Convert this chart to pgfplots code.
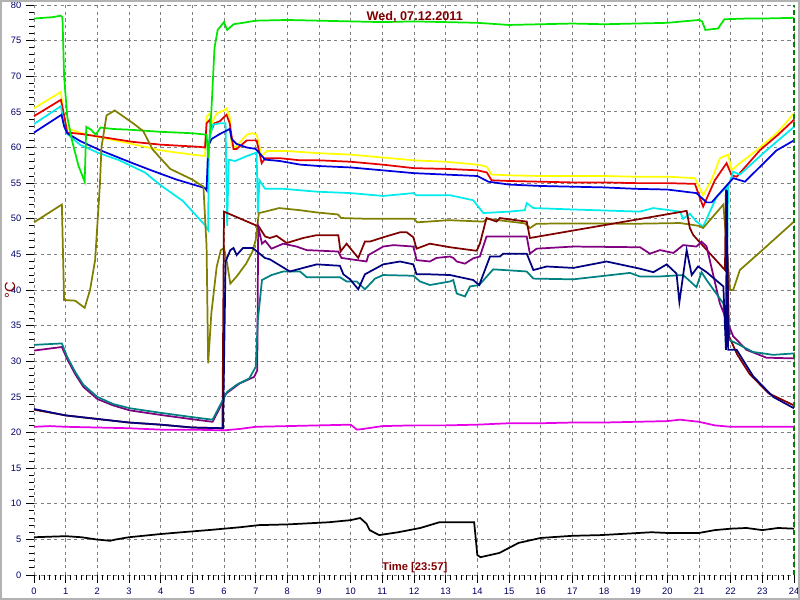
\documentclass[border=0pt]{standalone}
\usepackage{pgfplots}
\pgfplotsset{compat=1.18}
\usepackage{fontspec}
\setmainfont{Liberation Sans}

\definecolor{cgreen}{RGB}{0,230,0}
\definecolor{cyellow}{RGB}{255,255,0}
\definecolor{cred}{RGB}{230,0,0}
\definecolor{ccyan}{RGB}{0,235,235}
\definecolor{cblue}{RGB}{0,0,220}
\definecolor{colive}{RGB}{128,128,0}
\definecolor{cmaroon}{RGB}{128,0,0}
\definecolor{cpurple}{RGB}{128,0,128}
\definecolor{cnavy}{RGB}{0,0,128}
\definecolor{cteal}{RGB}{0,128,128}
\definecolor{cmagenta}{RGB}{230,0,230}
\definecolor{labred}{RGB}{128,0,0}
\definecolor{ticknavy}{RGB}{0,0,102}
\definecolor{cursor}{RGB}{0,128,0}

\begin{document}
\begin{tikzpicture}
\begin{axis}[
    width=570pt, height=427.5pt, scale only axis,
    xmin=0, xmax=24, ymin=0, ymax=80,
    xtick={0,1,...,24}, ytick={0,5,...,80},
    minor x tick num=5, minor y tick num=4,
    tick align=outside,
    major tick length=6pt, minor tick length=3.5pt,
    axis lines*=left,
    axis line style={draw=none},
    tick style={black, line width=0.7pt},
    grid=major,
    major grid style={gray, line width=0.6pt, dash pattern=on 2.5pt off 2.5pt},
    ticklabel style={font=\fontsize{7}{8}\selectfont, text=ticknavy},
    /pgf/number format/assume math mode=true,
    clip=false,
    every axis plot/.append style={line width=1.3pt, mark=none},
]
% yellow
\addplot[cyellow] coordinates {
 (0,65.5) (0.85,67.8) (0.95,64) (1.05,62.7) (1.5,62) (2,61.5) (3,60.6) (4,59.6) (5,59) (5.4,58.8)
 (5.45,64.3) (5.55,64.8) (5.61,63.4) (5.77,64.8) (6.0,65.2) (6.08,65.5) (6.18,64.3) (6.24,60.2)
 (6.35,60) (6.72,61.8) (6.9,62) (7.03,61.8) (7.19,58.8) (7.35,59.5) (8,59.5) (9,59.2) (10,59)
 (11,58.6) (12,58.2) (13,58) (14,57.6) (14.3,57.3) (14.45,56.2) (15,56.1) (16,56) (17,56)
 (18,56) (19,55.9) (20,55.9) (20.87,55.7) (21.13,53.3) (21.4,55.5) (21.66,58.5) (21.92,59)
 (22.03,56.8) (22.29,57.8) (22.82,59.6) (23.5,62.2) (24,64.8)
};
% red
\addplot[cred] coordinates {
 (0,64.4) (0.85,66.7) (0.95,64.5) (1.05,62.1) (1.5,61.9) (2.1,61.5) (3.1,60.8) (4,60.4) (5.2,60.1)
 (5.4,60) (5.45,63.4) (5.55,63.9) (5.61,62.5) (5.7,63.4) (5.87,63.7) (6.08,64.6) (6.18,63.4)
 (6.3,59.8) (6.4,59.8) (6.72,61) (7.03,61) (7.19,57.8) (7.3,58.5) (7.77,58.5) (8.4,58.2) (9,58.2)
 (10,58) (11,57.6) (12,57.1) (13,57) (14,56.8) (14.3,56.5) (14.45,55.4) (15,55.3) (16,55.2)
 (17,55.1) (18,55.1) (19,55) (20,55) (20.87,54.9) (21.13,51.7) (21.5,55.4) (21.87,57.8)
 (22.03,56.1) (22.19,55.9) (22.92,59.6) (23.5,61.8) (24,63.9)
};
% cyan
\addplot[ccyan] coordinates {
 (0,63.3) (0.85,65.8) (0.95,63) (1.05,61.9) (1.45,60.4) (2,59.3) (2.7,58.2) (3.5,56.5) (4,54.7)
 (4.7,52.5) (5.4,49.1) (5.5,48.4) (5.52,60.7) (5.61,62.5) (5.65,63.2) (5.87,63.4) (6.05,63.4)
 (6.1,49) (6.15,58.3) (6.35,58.1) (6.72,58.8) (7.03,59.3) (7.07,50.8) (7.12,55.4) (7.3,54.2)
 (7.87,54.2) (8.93,53.8) (10,53.6) (11.03,53.2) (11.98,53.6) (12.08,53.3) (13.14,53.3)
 (13.87,52.6) (14.19,50.8) (15,51) (15.5,51.2) (15.56,52.2) (15.77,51.5) (17.03,51.3)
 (19.13,51) (19.56,51.5) (20.4,51) (20.5,50) (20.71,50.7) (20.92,49.6) (21.13,48.9) (21.56,53.1)
 (21.87,54.5) (21.89,45.6) (21.92,54.5) (22.08,56.6) (22.29,56.2) (23.13,59.6) (24,62.9)
};
% blue
\addplot[cblue] coordinates {
 (0,62.1) (0.87,64.6) (0.95,63) (1.05,62) (1.46,60.9) (2.1,59.6) (3,58) (3.7,56.8) (4.5,55.5)
 (5.4,54.3) (5.45,54) (5.5,60.2) (5.61,61.2) (5.87,61.9) (6.18,62.6) (6.24,61.2) (6.4,60.5)
 (6.72,60) (7.0,59.8) (7.3,58.3) (7.77,58.1) (8.4,57.6) (9,57.4) (10,57.2) (11,56.8) (12,56.4)
 (13,56.2) (14,56) (14.35,55.2) (15,54.8) (16,54.6) (17,54.5) (18,54.4) (19,54.2) (20,54.1)
 (20.92,53.6) (21.24,52.3) (21.4,52.3) (22.08,55.7) (22.45,55.2) (23.45,59.6) (24,61)
};
% green
\addplot[cgreen] coordinates {
 (0,78.1) (0.3,78.2) (0.6,78.3) (0.85,78.5) (0.9,78.2) (0.95,70) (1.05,64.3) (1.2,61) (1.4,57.5)
 (1.6,55.2) (1.65,62.9) (1.8,62.5) (1.95,61.8) (2.1,62.8) (2.5,62.6) (3,62.5) (4,62.2) (5,62)
 (5.45,61.8) (5.5,58.5) (5.6,65) (5.7,74) (5.8,76.5) (6.0,77.6) (6.1,76.5) (6.3,77.3) (6.6,77.5)
 (7,77.8) (8,77.9) (9,77.8) (10,77.7) (11,77.6) (12,77.7) (13,77.6) (14,77.5) (15,77.2) (16,77.3)
 (17,77.4) (18,77.3) (19,77.4) (20,77.5) (21.0,77.9) (21.1,77.7) (21.2,76.5) (21.6,76.7)
 (21.8,78) (22.5,78.1) (23,78.1) (24,78.2)
};
% olive
\addplot[colive] coordinates {
 (0,49.5) (0.88,52) (0.95,38.6) (1.3,38.5) (1.6,37.5) (1.77,40) (1.93,44.2) (2.08,54.7) (2.13,60)
 (2.29,64.5) (2.55,65.2) (3.13,63.4) (3.45,62.3) (3.75,59.7) (4.3,57) (5,55.5) (5.35,54.5)
 (5.45,46.1) (5.5,29.7) (5.6,36.7) (5.77,43.3) (5.9,45.6) (6.0,45.9) (6.1,43.7) (6.2,40.9)
 (6.4,41.9) (6.7,43.7) (6.9,45.4) (7.0,47) (7.1,50.8) (7.3,51) (7.74,51.5) (8.4,51.2) (8.9,50.9)
 (9.6,50.6) (9.7,50.1) (10.5,50) (12,50) (12.1,49.5) (13.1,49.8) (14.2,49.6) (14.3,50)
 (15.5,49.35) (15.66,48.7) (15.87,49.3) (17,49.35) (19,49.3) (20.4,49.4) (21.0,49) (21.13,48.7)
 (21.77,52) (21.98,40) (22.08,40) (22.29,42.8) (23,45.6) (24,49.6)
};
% maroon
\addplot[cmaroon] coordinates {
 (0,23.2) (1,22.4) (2,21.9) (3,21.4) (4,21.1) (5,20.7) (5.95,20.6) (6.0,51) (7.1,48.9) (7.3,47.5)
 (7.45,47.3) (7.66,47.6) (7.98,46.6) (8.5,47.3) (8.93,47.7) (9.61,47.7) (9.68,45.4) (9.87,46.5)
 (10.24,44.5) (10.45,46.8) (10.61,46.8) (11.03,47.4) (11.56,48.1) (11.77,48.1) (11.98,47.4)
 (12.08,45.8) (12.5,46.5) (13.14,46) (13.98,45.5) (14.08,46.5) (14.29,50.1) (14.61,49.6)
 (14.71,50.1) (15.56,49.6) (15.66,47.3) (20.61,51.1) (20.71,48.7) (20.82,47.7) (21.82,42.8)
 (21.85,54.1) (21.95,33.5) (22.2,31) (22.6,28.2) (23.2,25.5) (24,23.8)
};
% purple
\addplot[cpurple] coordinates {
 (0,31.5) (0.88,32) (1.05,30.3) (1.3,28.2) (1.56,26.4) (2,24.7) (2.5,23.8) (3.03,23.1) (4.1,22.4)
 (5.1,21.8) (5.64,21.5) (5.85,23.3) (6.05,25.4) (6.5,26.9) (6.95,27.8) (7.05,28.7) (7.08,48.9)
 (7.2,46.5) (7.3,46.9) (7.5,45.8) (7.87,46.5) (8.29,46.1) (8.61,45.6) (9.61,45.4) (9.71,44.5)
 (10.5,44) (10.56,44.9) (11.03,46.1) (11.35,46.3) (11.98,46.1) (12.08,44.2) (12.5,44)
 (12.71,44.5) (13.14,44.7) (13.24,44.5) (13.35,44) (13.61,43.7) (13.87,44.45) (14.08,44.7)
 (14.29,47.5) (15.56,47.5) (15.66,45.1) (15.87,45.8) (17.03,46.1) (19.14,46.0) (19.45,45.1)
 (19.77,45.6) (20.19,45.2) (20.5,46.3) (20.92,46.1) (21.08,46.8) (21.24,46.1) (21.66,38.1)
 (22.08,33.5) (22.5,31.6) (23.13,30.5) (24,30.4)
};
% teal
\addplot[cteal] coordinates {
 (0,32.3) (0.88,32.5) (1.05,30.6) (1.3,28.5) (1.56,26.7) (2,25) (2.5,24) (3.03,23.4) (4.1,22.7)
 (5.1,22.1) (5.64,21.8) (5.85,23.6) (6.1,25.7) (6.4,26.7) (6.8,27.6) (7.0,29.2) (7.07,35.8)
 (7.2,41.4) (7.5,42.1) (7.87,42.6) (8.4,42.6) (8.61,41.8) (9.66,41.8) (9.87,41.2) (10.19,41.2)
 (10.45,40.1) (10.77,41.6) (11.03,42.1) (11.98,42) (12.19,41.2) (12.5,40.7) (13.14,41.2)
 (13.24,41.4) (13.35,39.5) (13.61,39.1) (13.77,40.5) (14.06,40.7) (14.5,42.9) (15.56,42.6)
 (15.77,41.6) (17.03,41.5) (18.82,42.4) (19.13,41.9) (19.76,41.9) (20.5,42.1) (20.92,40.4)
 (21.08,42.5) (21.24,41.4) (21.77,38.1) (21.89,33.5) (21.95,33) (22.19,32.5) (22.71,31.3)
 (23.34,30.9) (24,31.1)
};
% navy
\addplot[cnavy] coordinates {
 (0,23.3) (1,22.4) (2,21.9) (3,21.4) (4,21.1) (5,20.7) (5.97,20.6) (6.05,44) (6.2,45.6) (6.3,45.9)
 (6.4,44.9) (6.6,45.9) (6.9,45.9) (7.1,45.2) (7.29,44.5) (7.45,44.3) (8.08,42.6) (8.5,43.1)
 (8.93,43.6) (9.66,43.4) (9.77,42.2) (9.98,41.5) (10.24,40.1) (10.45,42.2) (11.03,43.6)
 (11.56,44) (11.98,43.6) (12.08,42.2) (12.5,42.2) (13.14,42.1) (13.87,41.4) (14.06,40.7)
 (14.4,44.7) (14.71,44.7) (14.82,45.1) (15.56,45.1) (15.77,42.8) (16.19,43.3) (17.03,43.1)
 (18.08,44) (19.13,43) (19.56,42.5) (19.98,43.6) (20.29,42.3) (20.38,38.3) (20.61,45.6)
 (20.77,42.1) (20.97,43.3) (21.24,42.5) (21.77,40.5) (21.85,31.6) (21.88,54) (21.92,31.6)
 (22.19,31.6) (22.71,27.9) (23.34,25) (24,23.4)
};
% magenta
\addplot[cmagenta] coordinates {
 (0,20.8) (0.5,20.9) (1,20.8) (2,20.7) (3,20.6) (4,20.4) (5,20.4) (6,20.3) (6.5,20.5) (7,20.8)
 (8,20.9) (9,21) (10,21.1) (10.2,20.4) (10.4,20.5) (11,20.9) (12,21) (13,21) (14,21.1) (15,21.3)
 (16,21.3) (17,21.4) (18,21.4) (19,21.5) (20,21.6) (20.4,21.8) (21,21.5) (21.5,21) (22,20.8)
 (23,20.8) (24,20.8)
};
% black
\addplot[black] coordinates {
 (0,5.3) (1,5.45) (1.5,5.3) (1.95,5.0) (2.4,4.8) (2.6,5.0) (3,5.3) (4,5.75) (4.8,6.05) (5.5,6.3)
 (6.5,6.7) (7.1,7.0) (8,7.1) (9.3,7.4) (10,7.7) (10.3,8.0) (10.5,7.2) (10.6,6.3) (10.9,5.6)
 (11.5,6.0) (12.2,6.6) (12.8,7.4) (13.9,7.4) (14.0,2.8) (14.1,2.5) (14.7,3.1) (15.3,4.5) (16,5.2)
 (17,5.5) (17.9,5.6) (19.5,6.0) (20,5.9) (21,5.9) (21.5,6.3) (22,6.5) (22.5,6.6) (23,6.3)
 (23.5,6.6) (24,6.5)
};
% cursor
\addplot[cursor, line width=0.8pt, dash pattern=on 4pt off 2pt] coordinates {(24,0) (24,80)};

\node[text=labred, font=\bfseries\fontsize{9.5}{11}\selectfont] at (rel axis cs:0.501,0.979) {Wed, 07.12.2011};
\node[text=labred, font=\bfseries\fontsize{8.4}{10}\selectfont] at (rel axis cs:0.501,0.013) {Time [23:57]};
\node[text=labred, rotate=90, font=\fontsize{11}{12}\selectfont] at ([xshift=-18pt]rel axis cs:0,0.5) {°C};
\end{axis}
\pgfresetboundingbox
\path[use as bounding box] (-25.5pt,-18.75pt) rectangle (574.5pt,431.25pt);
\draw[gray!60, line width=1.5pt] (-24.75pt,-18pt) rectangle (573.75pt,430.5pt);
\end{tikzpicture}
\end{document}
